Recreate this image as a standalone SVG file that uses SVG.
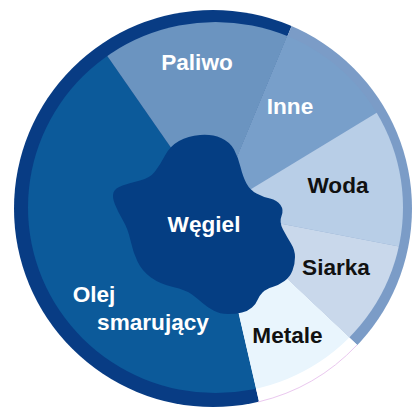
<svg xmlns="http://www.w3.org/2000/svg" width="412" height="412" viewBox="0 0 412 412">
  <style>
    .lbl { font-family: "Liberation Sans", Arial, sans-serif; font-weight: bold; font-size: 22.6px; text-anchor: middle; }
    .w { fill: #ffffff; }
    .k { fill: #111111; }
  </style>
  <defs>
    <clipPath id="outerClip"><ellipse cx="213" cy="208.5" rx="199" ry="198.5"/></clipPath>
    <clipPath id="innerClip"><ellipse cx="215.5" cy="207.5" rx="187.5" ry="185.5"/></clipPath>
  </defs>
  <rect width="412" height="412" fill="#ffffff"/>

  <g id="ring" clip-path="url(#outerClip)">
    <path d="M215,211 L273.5,464.3 A260,260 0 1 1 314.5,-29.2 Z" fill="#083c84"/>
    <path d="M215,211 L314.5,-29.2 A260,260 0 0 1 404.2,389.3 Z" fill="#7b9cc7"/>
    <path d="M215,211 L404.2,389.3 A260,260 0 0 1 273.5,464.3 Z" fill="#ffffff"/>
  </g>
  <path d="M357,345 A199,198.5 0 0 1 258,402" fill="none" stroke="#eac8ef" stroke-width="1"/>

  <g clip-path="url(#innerClip)">
    <g id="olej"><path d="M215,211 L273.5,464.3 A260,260 0 0 1 66.6,-2.5 Z" fill="#0c5a9a"/></g>
    <g id="paliwo"><path d="M215,211 L66.6,-2.5 A260,260 0 0 1 314.5,-29.2 Z" fill="#6b94c0"/></g>
    <g id="inne"><path d="M215,211 L314.5,-29.2 A260,260 0 0 1 437.2,75.9 Z" fill="#789fca"/></g>
    <g id="woda"><path d="M215,211 L437.2,75.9 A260,260 0 0 1 470.3,260.2 Z" fill="#b8cee7"/></g>
    <g id="siarka"><path d="M215,211 L470.3,260.2 A260,260 0 0 1 404.2,389.3 Z" fill="#c9d8eb"/></g>
    <g id="metale"><path d="M215,211 L404.2,389.3 A260,260 0 0 1 273.5,464.3 Z" fill="#e9f5fd"/></g>
  </g>

  <g id="wegiel">
    <path fill="#053e83" d="M113.5,192.5 Q115,188 122.5,185.5 Q130,183 140,180.5 Q150,178 155,171.5 Q160,165 165,155.5 Q170,146 179,141 Q188,136 200,135 Q212,134 221,138 Q230,142 234,149.5 Q238,157 240.5,167 Q243,177 246.5,183.5 Q250,190 256.5,193.5 Q263,197 270,198.5 Q277,200 280.5,205 Q284,210 281.5,216 Q279,222 283,229.5 Q287,237 291,243.5 Q295,250 295,257 Q295,264 292.5,270.5 Q290,277 284.5,281 Q279,285 272.5,287 Q266,289 262.5,292.5 Q259,296 257.5,300 Q256,304 252,307.5 Q248,311 242,312.5 Q236,314 228,314 Q220,314 213.5,310.5 Q207,307 202.5,303 Q198,299 192,294.5 Q186,290 173,287 Q160,284 151,277.5 Q142,271 137.5,261.5 Q133,252 130.5,240.5 Q128,229 123,220.5 Q118,212 115,204.5 Q112,197 113.5,192.5 Z"/>
    <text class="lbl w" x="204" y="232">Węgiel</text>
  </g>

  <g id="labels">
    <text class="lbl w" x="197" y="70">Paliwo</text>
    <text class="lbl w" x="290" y="114">Inne</text>
    <text class="lbl k" x="338" y="193">Woda</text>
    <text class="lbl k" x="336" y="275">Siarka</text>
    <text class="lbl k" x="287.5" y="343">Metale</text>
    <text class="lbl w" x="94" y="302">Olej</text>
    <text class="lbl w" x="153" y="330">smarujący</text>
  </g>
  <g id="connectors"/>
</svg>
